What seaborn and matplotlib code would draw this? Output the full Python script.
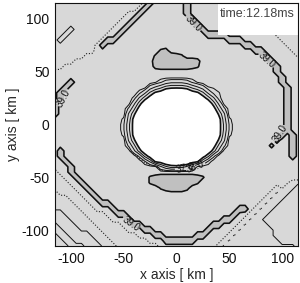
import numpy as np
import matplotlib
matplotlib.use("Agg")
import matplotlib.pyplot as plt
from matplotlib.ticker import MultipleLocator
from matplotlib.patches import Rectangle
import seaborn as sns

# ---------------- data ----------------
# grid nodes every 5 km
x_km = list(range(-115, 120, 5))
y_km = list(range(115, -120, -5))

# value of each code letter used in the field rows below
code_chars = list("0123456789abcdefghijklmnopqr.tuvwx")
code_values = [30.0, 30.5, 31.0, 31.5, 32.0, 32.5, 33.0, 33.5, 34.0, 34.4,
               34.8, 35.2, 35.5, 35.8, 36.2, 36.5, 36.8, 37.2, 37.5, 37.8,
               38.1, 38.2, 38.3, 38.35, 38.45, 38.55, 38.65, 38.7, 38.8, 38.9,
               39.05, 39.15, 39.25, 39.45]

# field rows, top (y=115) to bottom (y=-115), x from -115 to 115
rows_north = [
    "mmmmmmmmmmmmmmmmmqx......x...........nnnnnnnnnn",
    "mmmmmmmmmmmmmmmmqx.......x............nnnnnnnnn",
    "mmmmmmmmmmmmmmqqx........x............nnnnnnnnn",
    "mmmmmmmmmmmmmqqx..........x............nnnnnnnn",
    "mmmmmmmmmmmmqqx............x............nnnnnnn",
    "mmmimmmmmmmqqx..............x............nnnnnn",
    "mmimmmmmmmqqx................xxxx.........nnnnn",
    "mimmmmmmmqxx.....................xxx.......nnnn",
    "mmmmmmmmqx..........................xx......nnn",
    "mmmmmmmm............uv................xx.....nn",
    "mmmmmmqq...........uwxwvu...............x.....n",
    "mmmmqq.............wxxxxxwwv.............x.....",
]
rows_middle = [
    "mmqq...............vwwwwwwvu..............x....",
    "qq........................................x....",
    "...........................................x...",
    "...x...............pkihhhikp...............x...",
    "..x..............qigecbbbcegiop.............x..",
    ".x..............lhda9776779adhlo............x..",
    ".x.............mgc96443334469cgm............x..",
    "x.............rhc8531000001358chr...........x..",
    "x.............je952000000000259ej...........x..",
    "x.............gb730000000000037bg...........x..",
    ".............nf95200000000000259fn..........x..",
    ".............ke95100000000000159ek..........x..",
]
rows_south = [
    ".............ke95100000000000159ek..........x..",
    ".............nf95200000000000259fn.........x.x.",
    "..............gb730000000000037bg.........w..x.",
    "..............je952000000000259ej........v...x.",
    "qx............rhc8531000001358chr............x.",
    "qx..............jd96443334469dj..............x.",
    "qqx..............kga9776779agk.................",
    "qqqx...............qhecccehq...................",
    "nqqx...........................................",
    "nnqqx.............uvwwwwwwwvu..................",
    "nnnqqx............uwxxxxxxwu..............qqpll",
]
rows_bottom = [
    "nnnnqqx.............uwwwwv...............qmplli",
    "knnnnqqx..............ttt...............qmpllii",
    "kkknnnqqx..............................qmplliii",
    "kkkknnnqqxx...........................qmplliiii",
    "kkkkknnnqqqx.......................xxqmplliiiii",
    "iikkkknnnnqqxx....................x.qmplliiiiii",
    "iiikkkknnnnqqqx.................xx.qmplliiiiiii",
    "fiiikkkknnnnnqqxx.............xx..qmplllliiiiii",
    "ffiiikkkknnnnnqqqxx..........x...qmplllllliiiii",
    "c" "ff" "iiii" "kkk" "nnnnnn" "qqq" "xx" "......" "xx" "..." "qmp" "lllllll" "iiiii",
    "cc" "ff" "iiii" "kkk" "nnnnnnn" "qqq" "xxxxxx" "...." "qmp" "lllllllll" "iiii",
    "ccc" "fff" "iii" "kkk" "nnnnnnnn" "q" "........." "qmp" "lllllllllllll" "i",
]

hole_level = [35.0]
ridge_level = [39.0]
thin_levels = [36.0, 37.0, 38.0]
ring_level = [38.5]
shelf_level = [38.25]
fill_levels = [25.0, 35.0, 39.0, 45.0]
time_text = "time:12.18ms"

# ---------------- layout / style ----------------
label_pos_39 = [(17, 97), (87, 63), (95, -6), (-101, 20), (-42, -93)]
label_pos_ring = [(8, -40), (18, -40)]

rows = rows_north + rows_middle + rows_south + rows_bottom
lookup = dict(zip(code_chars, code_values))
bad = [(i, len(r)) for i, r in enumerate(rows) if len(r) != len(x_km)]
if bad or len(rows) != len(y_km):
    raise SystemExit("bad rows: %s, nrows=%d" % (bad, len(rows)))
Z = np.array([[lookup[ch] for ch in r] for r in rows])

sns.set_style("ticks")
plt.rcParams['font.family'] = ['Liberation Sans', 'DejaVu Sans']
plt.rcParams['axes.unicode_minus'] = False

fig = plt.figure(figsize=(3.0, 2.83), dpi=100)
ax = fig.add_axes([55 / 300, 37 / 283, 243 / 300, 243 / 283])

X, Y = np.meshgrid(np.array(x_km, float), np.array(y_km, float))
center = (np.abs(X) <= 60) & (np.abs(Y) <= 60)
lower_left = (X < 0) & (Y < -20)
Z_center = np.ma.masked_where(~center, Z)
Z_outer = np.ma.masked_where(center, Z)
Z_ll = np.ma.masked_where(~lower_left, Z)

ax.contourf(X, Y, Z, levels=fill_levels,
            colors=['white', '#d8d8d8', '#c0c0c0'])
ax.contour(X, Y, Z, levels=[thin_levels[0]], colors='#111111', linewidths=0.7)
cs_thin = ax.contour(X, Y, Z, levels=thin_levels[1:], colors='#111111',
                     linewidths=0.7)
ax.contour(X, Y, Z_center, levels=ring_level, colors='#111111',
           linewidths=0.7)
dot = [(0, (1.0, 1.6))]
ax.contour(X, Y, Z_outer, levels=ring_level, colors='#222222',
           linewidths=0.8, linestyles=dot)
ax.contour(X, Y, Z_ll, levels=shelf_level, colors='#222222',
           linewidths=0.8, linestyles=dot)
ax.contour(X, Y, Z, levels=hole_level, colors='#111111', linewidths=1.2)
cs_ridge = ax.contour(X, Y, Z, levels=ridge_level, colors='#111111',
                      linewidths=1.15)

ax.clabel(cs_ridge, manual=label_pos_39, fmt='%.1f',
          fontsize=7, inline=True, inline_spacing=1, colors='#111111')
ax.clabel(cs_thin, manual=label_pos_ring, fmt='%.1f',
          fontsize=7, inline=True, inline_spacing=1, colors='#111111')

ax.add_patch(Rectangle((0.671, 0.868), 0.33, 0.134, transform=ax.transAxes,
                       facecolor='white', edgecolor='none', zorder=5,
                       clip_on=False))
ax.text(0.679, 0.955, time_text, transform=ax.transAxes, fontsize=9,
        color='#444444', ha='left', va='center', zorder=6)

ax.set_xlim(-115, 115)
ax.set_ylim(-115, 115)
for axis in (ax.xaxis, ax.yaxis):
    axis.set_major_locator(MultipleLocator(50))
    axis.set_minor_locator(MultipleLocator(10))
ax.tick_params(which='both', direction='in', top=True, right=True,
               width=0.6, colors='#111111')
ax.tick_params(which='major', length=5, labelsize=10, pad=4)
ax.tick_params(which='minor', length=2.5)
for sp in ax.spines.values():
    sp.set_linewidth(0.8)
    sp.set_color('#111111')
    sp.set_zorder(7)

ax.set_xlabel('x axis [ km ]', fontsize=10, labelpad=2)
ax.set_ylabel('y axis [ km ]', fontsize=10, labelpad=1)

fig.savefig('out.png', dpi=100, facecolor='white')
